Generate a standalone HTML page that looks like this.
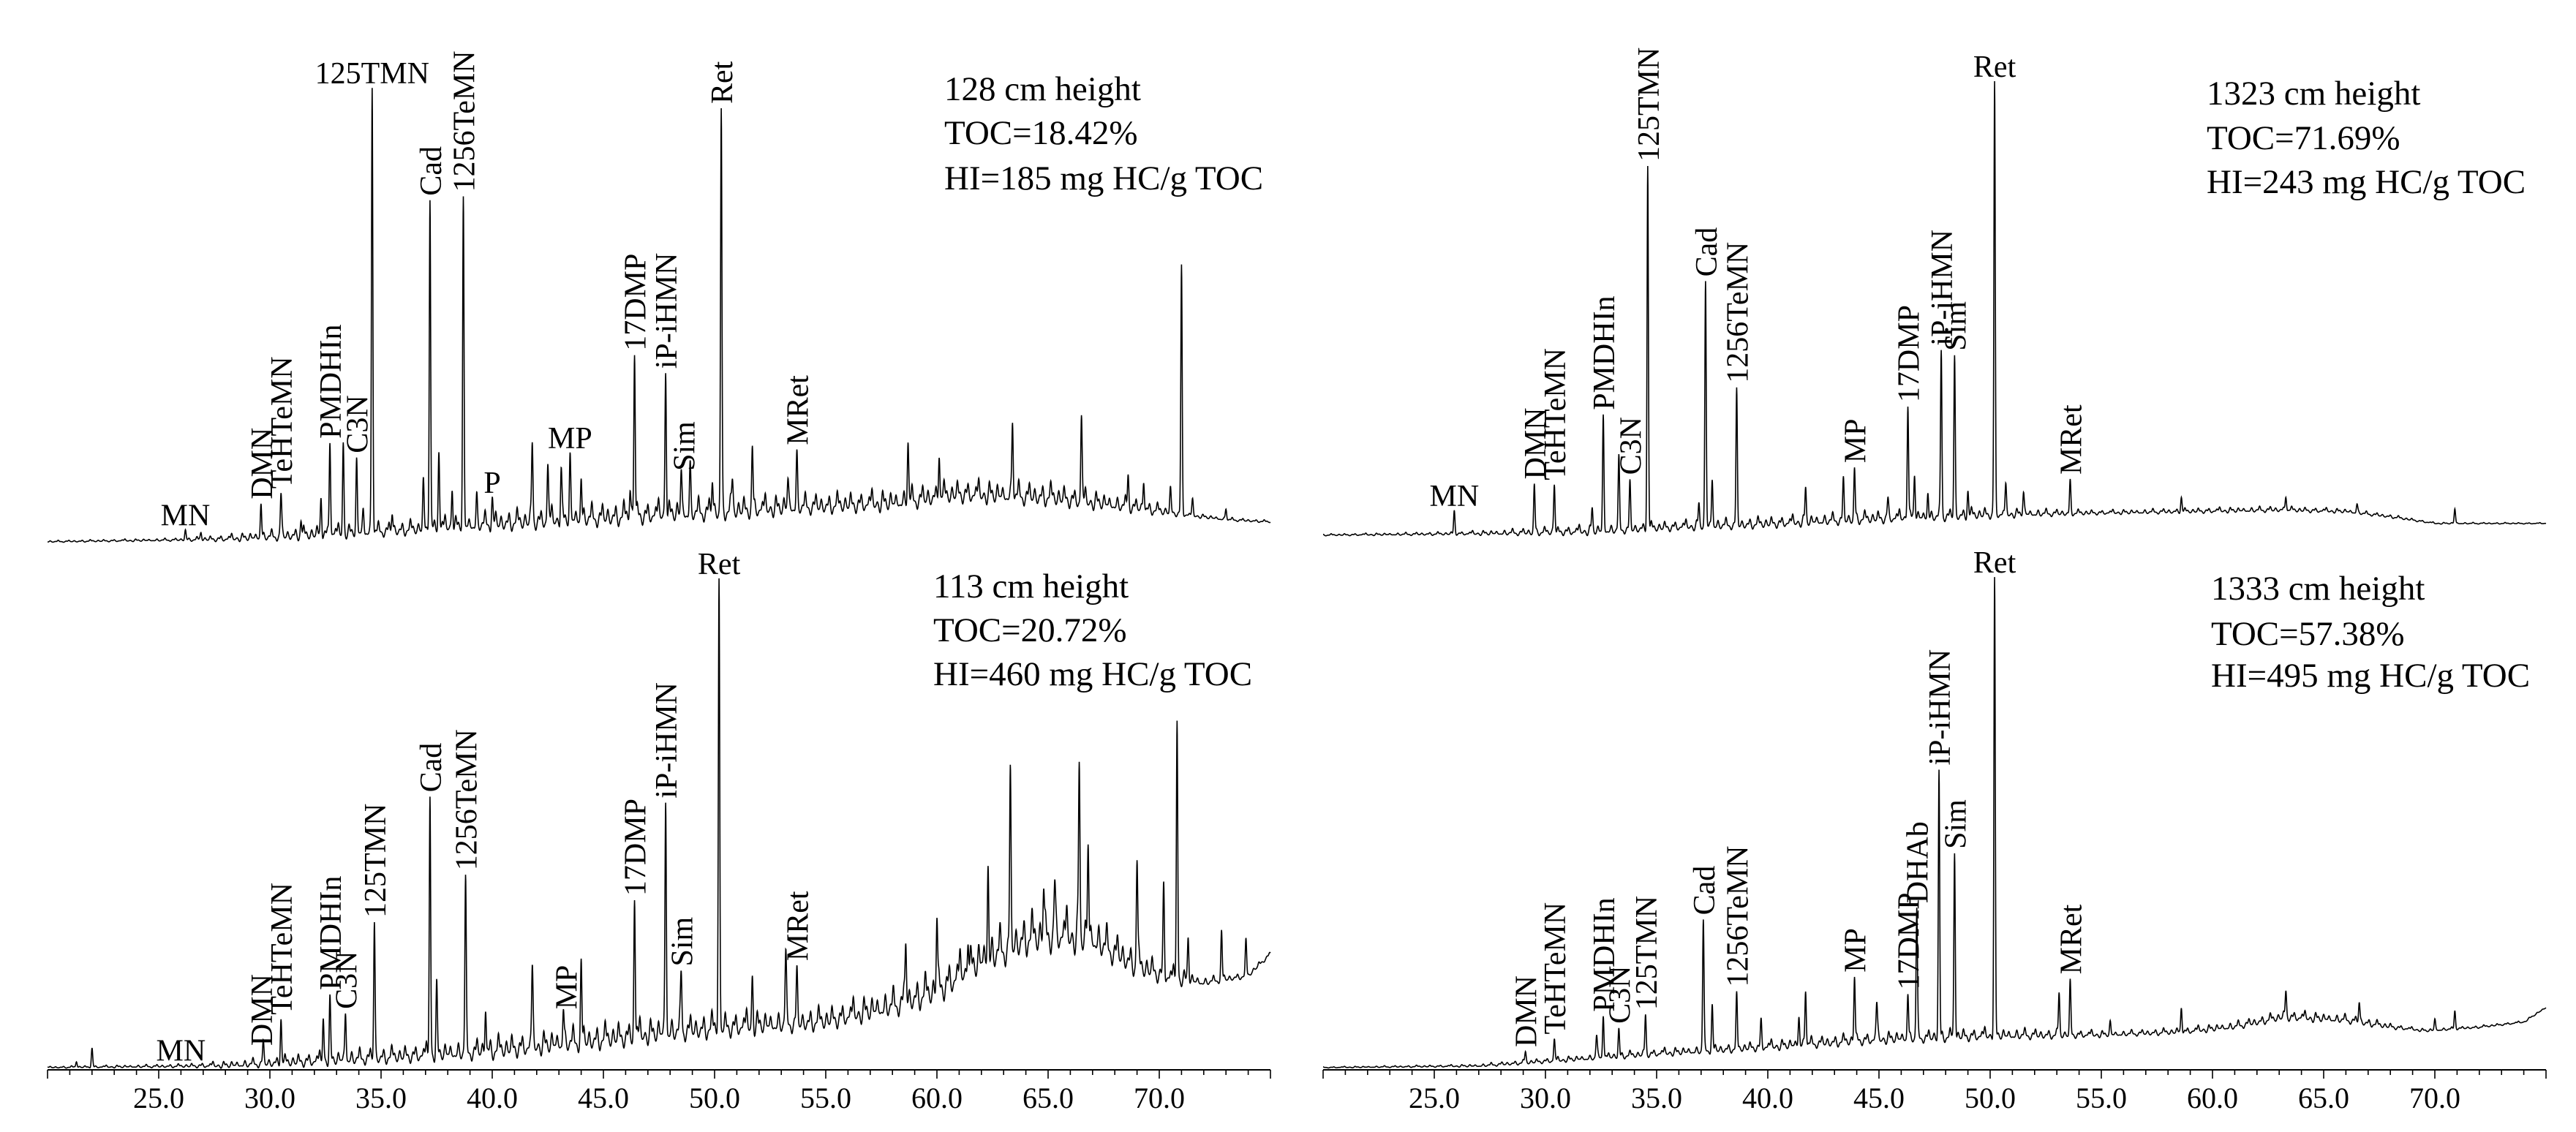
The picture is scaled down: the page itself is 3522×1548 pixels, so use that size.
<!DOCTYPE html>
<html><head><meta charset="utf-8"><style>
html,body{margin:0;padding:0;background:#fff;}
svg{display:block;font-family:"Liberation Serif",serif;}
</style></head><body>
<svg id="fig" width="3522" height="1548" viewBox="0 0 3522 1548" xmlns="http://www.w3.org/2000/svg">
<rect width="3522" height="1548" fill="#fff"/>
<g id="traces"></g>
<g id="labels"></g>
<g id="axes"></g>
<g id="notes"></g>
</svg>
<script>
// ---------- data ----------
const tickLabels = ["25.0","30.0","35.0","40.0","45.0","50.0","55.0","60.0","65.0","70.0"];
const tickValues = [25,30,35,40,45,50,55,60,65,70];

const tlBaseline = [[20,0],[28,3],[32,8],[36,14],[40,22],[45,30],[50,38],[54,45],[58,50],[61,62],[65,58],[68,48],[71,37],[73,30],[75,27]];
const tlPeaks = [[26.2,14],[26.9,10],[29.6,48],[30.5,57],[31.4,20],[32.3,52],[32.7,129],[33.3,123],[33.9,95],[34.2,30],[34.6,610],[35.5,25],[36.9,60],[37.2,454],[37.6,105],[38.2,55],[38.7,441],[39.3,35],[40.0,35],[41.8,107],[42.5,77],[43.1,72],[43.5,80],[44.0,60],[46.2,40],[46.4,225],[47.8,201],[48.5,60],[48.9,60],[49.9,45],[50.3,549],[50.8,40],[51.7,82],[53.3,40],[53.7,68],[58.7,83],[60.1,65],[63.4,105],[66.5,117],[68.6,45],[69.3,40],[70.5,30],[71.0,337],[71.5,20],[73.0,15]];
const tlGrass = [[20,3],[26,5],[29,15],[32,25],[36,25],[40,35],[45,40],[50,40],[55,35],[60,40],[65,40],[68,30],[70,20],[71.5,8],[75,4]];
const tlLabels = [["MN",26.2,"h"],["DMN",29.6,"v"],["TeHTeMN",30.5,"v"],["PMDHIn",32.7,"v"],["C3N",33.9,"v"],["125TMN",34.6,"h"],["Cad",37.2,"v"],["1256TeMN",38.7,"v"],["P",40.0,"h"],["MP",43.5,"h"],["17DMP",46.4,"v"],["iP-iHMN",47.8,"v"],["Sim",48.6,"v"],["Ret",50.3,"v"],["MRet",53.7,"v"]];
const tlNotes = ["128 cm height","TOC=18.42%","HI=185 mg HC/g TOC"];

const blBaseline = [[20,0],[28,2],[32,7],[36,13],[40,20],[45,35],[48,45],[50,50],[53,56],[55,60],[58,80],[60,100],[62,140],[64,170],[65.5,175],[67,170],[69,135],[70.5,120],[72,115],[74,125],[75,155]];
const blPeaks = [[21.3,8],[22.0,26],[29.7,26],[30.5,62],[32.4,60],[32.7,80],[33.4,65],[34.7,186],[37.2,356],[37.5,90],[38.8,233],[39.7,62],[41.8,100],[43.2,50],[44.0,106],[46.4,187],[47.8,318],[48.5,79],[50.2,611],[51.7,67],[53.2,91],[53.7,63],[58.6,83],[60.0,104],[61.4,57],[62.3,133],[63.3,221],[64.8,71],[65.3,71],[66.4,234],[66.8,131],[69.0,145],[70.2,123],[70.8,356],[71.3,60],[72.8,66],[73.9,47]];
const blGrass = [[20,3],[26,6],[29,15],[32,25],[36,30],[40,40],[45,45],[50,45],[55,40],[58,50],[62,70],[66,75],[69,50],[71,30],[72,15],[75,8]];
const blLabels = [["MN",26.0,"h"],["DMN",29.6,"v"],["TeHTeMN",30.5,"v"],["PMDHIn",32.7,"v"],["C3N",33.4,"v"],["125TMN",34.7,"v"],["Cad",37.2,"v"],["1256TeMN",38.8,"v"],["MP",43.3,"v"],["17DMP",46.4,"v"],["iP-iHMN",47.8,"v"],["Sim",48.5,"v"],["Ret",50.2,"h"],["MRet",53.7,"v"]];
const blNotes = ["113 cm height","TOC=20.72%","HI=460 mg HC/g TOC"];

const trBaseline = [[20,0],[28,2],[32,4],[36,10],[40,14],[44,20],[48,24],[50,27],[55,30],[59,32],[63,34],[66,32],[68,25],[70,16],[75,16]];
const trPeaks = [[25.9,32],[29.5,66],[30.4,66],[32.1,30],[32.6,154],[33.3,95],[33.8,60],[34.6,497],[36.9,30],[37.2,332],[37.5,65],[38.6,179],[41.7,45],[43.4,50],[43.9,70],[45.4,25],[46.3,158],[46.6,60],[47.2,35],[47.8,228],[48.4,218],[49.0,35],[50.2,589],[50.7,34],[51.5,30],[53.6,43],[58.6,20],[63.3,20],[66.5,12],[70.9,20]];
const trGrass = [[20,3],[26,6],[29,12],[32,18],[36,18],[40,20],[45,22],[50,20],[52,14],[55,8],[63,10],[68,6],[70,3],[75,2]];
const trLabels = [["MN",25.9,"h"],["DMN",29.5,"v"],["TeHTeMN",30.4,"v"],["PMDHIn",32.6,"v"],["C3N",33.8,"v"],["125TMN",34.6,"v"],["Cad",37.2,"v"],["1256TeMN",38.6,"v"],["MP",43.9,"v"],["17DMP",46.3,"v"],["iP-iHMN",47.8,"v"],["Sim",48.4,"v"],["Ret",50.2,"h"],["MRet",53.6,"v"]];
const trNotes = ["1323 cm height","TOC=71.69%","HI=243 mg HC/g TOC"];

const brBaseline = [[20,0],[27,2],[30,8],[35,18],[40,27],[45,37],[48,40],[50,42],[55,44],[58.7,48],[61,55],[63.2,68],[66,64],[68,55],[69.6,50],[72,55],[74,62],[75,82]];
const brPeaks = [[29.1,14],[30.4,29],[32.3,30],[32.6,60],[33.3,38],[34.5,54],[37.1,178],[37.5,61],[38.6,69],[39.7,35],[41.4,40],[41.7,76],[43.9,90],[44.9,48],[46.3,63],[46.7,176],[47.7,365],[48.4,254],[50.2,623],[53.1,56],[53.6,70],[55.4,15],[58.6,35],[63.3,35],[66.6,28],[70.0,15],[70.9,25]];
const brGrass = [[20,2],[26,4],[29,8],[33,12],[40,18],[45,22],[50,22],[53,16],[56,10],[61,14],[64,18],[67,14],[69,6],[75,3]];
const brLabels = [["DMN",29.1,"v"],["TeHTeMN",30.4,"v"],["PMDHIn",32.6,"v"],["C3N",33.3,"v"],["125TMN",34.5,"v"],["Cad",37.1,"v"],["1256TeMN",38.6,"v"],["MP",43.9,"v"],["17DMP",46.3,"v"],["DHAb",46.7,"v"],["iP-iHMN",47.7,"v"],["Sim",48.4,"v"],["Ret",50.2,"h"],["MRet",53.6,"v"]];
const brNotes = ["1333 cm height","TOC=57.38%","HI=495 mg HC/g TOC"];

const grassPattern = [0.3,0.8,0.2,0.5,1.0,0.4,0.1,0.6,0.9,0.3,0.7,0.2,0.5,0.8,0.1,0.4,1.0,0.6,0.2,0.7,0.3,0.9,0.5,0.1,0.6,0.8,0.2,0.4,0.7,1.0,0.3,0.5,0.1,0.9,0.6,0.2,0.8,0.4,0.7,0.3];

// ---------- layout ----------
const NS = "http://www.w3.org/2000/svg";
const T0 = 20, T1 = 75, PXMIN = 30.4;
const panels = [
  {key:"top-left", x25:217, y0:741, base:tlBaseline, peaks:tlPeaks, grass:tlGrass, labels:tlLabels, notes:tlNotes, nx:1291, ny:[137,197,259], off:0},
  {key:"bottom-left", x25:217, y0:1460, base:blBaseline, peaks:blPeaks, grass:blGrass, labels:blLabels, notes:blNotes, nx:1276, ny:[817,877,937], off:7},
  {key:"top-right", x25:1961, y0:732, base:trBaseline, peaks:trPeaks, grass:trGrass, labels:trLabels, notes:trNotes, nx:3017, ny:[143,204,264], off:13},
  {key:"bottom-right", x25:1961, y0:1460, base:brBaseline, peaks:brPeaks, grass:brGrass, labels:brLabels, notes:brNotes, nx:3023, ny:[820,882,939], off:21}
];
function interp(arr, t){
  if (t <= arr[0][0]) return arr[0][1];
  for (let i=1;i<arr.length;i++){
    if (t <= arr[i][0]){ const a=arr[i-1], b=arr[i]; return a[1]+(b[1]-a[1])*(t-a[0])/(b[0]-a[0]); }
  }
  return arr[arr.length-1][1];
}
function signal(p, t){
  let v = interp(p.base, t);
  for (const [c,h] of p.peaks){ const d=(t-c)/0.03; if (Math.abs(d)<6) v += h*Math.exp(-0.5*d*d); }
  const amp = interp(p.grass, t), sp = 0.12;
  const k0 = Math.floor((t-T0)/sp);
  for (let k=k0-2;k<=k0+2;k++){
    const c = T0 + k*sp; const g = grassPattern[((k+p.off)%40+40)%40];
    const d=(t-c)/0.035; v += amp*(g-0.35)*Math.exp(-0.5*d*d);
  }
  return v;
}
const traces = document.getElementById("traces");
const labelsG = document.getElementById("labels");
const notesG = document.getElementById("notes");
const axesG = document.getElementById("axes");

panels.forEach(p=>{
  const xs = t => p.x25 + (t-25)*PXMIN;
  const ys = v => p.y0 - v;
  let d = "";
  for (let t=T0; t<=T1+1e-9; t+=0.01){
    d += (d?"L":"M") + xs(t).toFixed(2) + " " + ys(signal(p,t)).toFixed(2);
  }
  const path = document.createElementNS(NS,"path");
  path.setAttribute("d", d);
  path.setAttribute("fill","none"); path.setAttribute("stroke","#000"); path.setAttribute("stroke-width","1.6");
  
  
  traces.appendChild(path);

  p.labels.forEach(([txt,t,o])=>{
    let mx = -1e9;
    for (let u=t-0.08; u<=t+0.08; u+=0.01) mx = Math.max(mx, signal(p,u));
    const px = xs(t), py = ys(mx);
    const el = document.createElementNS(NS,"text");
    el.textContent = txt;
    el.setAttribute("font-size","42");
    if (o === "h"){
      el.setAttribute("x", px.toFixed(1)); el.setAttribute("y", (py-6).toFixed(1));
      el.setAttribute("text-anchor","middle");
    } else {
      el.setAttribute("transform","translate("+(px+15).toFixed(1)+","+(py-6).toFixed(1)+") rotate(-90)");
    }
    
    
    labelsG.appendChild(el);
  });

  p.notes.forEach((s,i)=>{
    const el = document.createElementNS(NS,"text");
    el.textContent = s;
    el.setAttribute("x", p.nx); el.setAttribute("y", p.ny[i]); el.setAttribute("font-size","47");
    
    
    notesG.appendChild(el);
  });

  if (p.key.startsWith("bottom")){
    const ay = 1463;
    const line = document.createElementNS(NS,"line");
    line.setAttribute("x1", xs(T0)); line.setAttribute("x2", xs(T1));
    line.setAttribute("y1", ay); line.setAttribute("y2", ay);
    line.setAttribute("stroke","#000"); line.setAttribute("stroke-width","2");
    
    
    axesG.appendChild(line);
    for (let t=T0; t<=T1; t++){
      const major = (t%5===0);
      const tk = document.createElementNS(NS,"line");
      tk.setAttribute("x1", xs(t)); tk.setAttribute("x2", xs(t));
      tk.setAttribute("y1", ay); tk.setAttribute("y2", ay + (major?12:7));
      tk.setAttribute("stroke","#000"); tk.setAttribute("stroke-width","1.6");
      
      
      axesG.appendChild(tk);
    }
    tickValues.forEach((v,i)=>{
      const el = document.createElementNS(NS,"text");
      el.textContent = tickLabels[i];
      el.setAttribute("x", xs(v)); el.setAttribute("y", 1515);
      el.setAttribute("text-anchor","middle"); el.setAttribute("font-size","40");
      
      
      axesG.appendChild(el);
    });
  }
});
</script>
</body></html>
